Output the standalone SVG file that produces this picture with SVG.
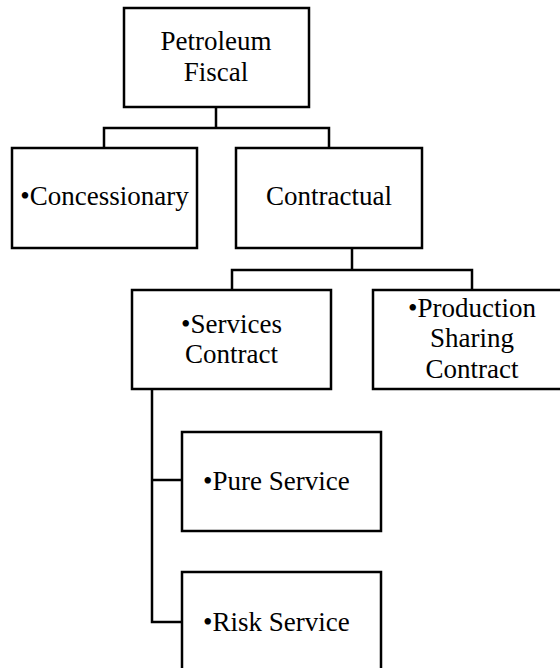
<svg xmlns="http://www.w3.org/2000/svg" width="560" height="668" viewBox="0 0 560 668">
<style>
.box{fill:#fff;stroke:#000;stroke-width:2.5}
text{font-family:'Liberation Serif','Times New Roman',Times,serif;font-size:27px;fill:#000}
.m{text-anchor:middle}
.c{fill:none;stroke:#000;stroke-width:2.5}
</style>
<rect width="560" height="668" fill="#fff"/>
<g id="connectors">
<path class="c" d="M216 107V128M104 148V128H329V148"/>
<path class="c" d="M352 248V270M232 290V270H472V290"/>
<path class="c" d="M152 389V622H182M152 480H182"/>
</g>
<g id="root" font-family="Liberation Serif, serif"><rect class="box" x="124" y="8" width="185" height="99"/>
<text class="m" x="216" y="50">Petroleum</text><text class="m" x="216" y="81">Fiscal</text></g>
<g id="concessionary"><rect class="box" x="12" y="148" width="185" height="100"/>
<text class="m" x="104.5" y="205">•Concessionary</text></g>
<g id="contractual"><rect class="box" x="236" y="148" width="186" height="100"/>
<text class="m" x="329" y="205">Contractual</text></g>
<g id="services"><rect class="box" x="132" y="290" width="199" height="99"/>
<text class="m" x="231.5" y="333">•Services</text><text class="m" x="231.5" y="363">Contract</text></g>
<g id="production"><rect class="box" x="373" y="290" width="200" height="99"/>
<text class="m" x="472" y="317">•Production</text><text class="m" x="472" y="347">Sharing</text><text class="m" x="472" y="378">Contract</text></g>
<g id="pure"><rect class="box" x="182" y="432" width="199" height="99"/>
<text x="203" y="490">•Pure Service</text></g>
<g id="risk"><rect class="box" x="182" y="572" width="199" height="110"/>
<text x="203" y="631">•Risk Service</text></g>
</svg>
